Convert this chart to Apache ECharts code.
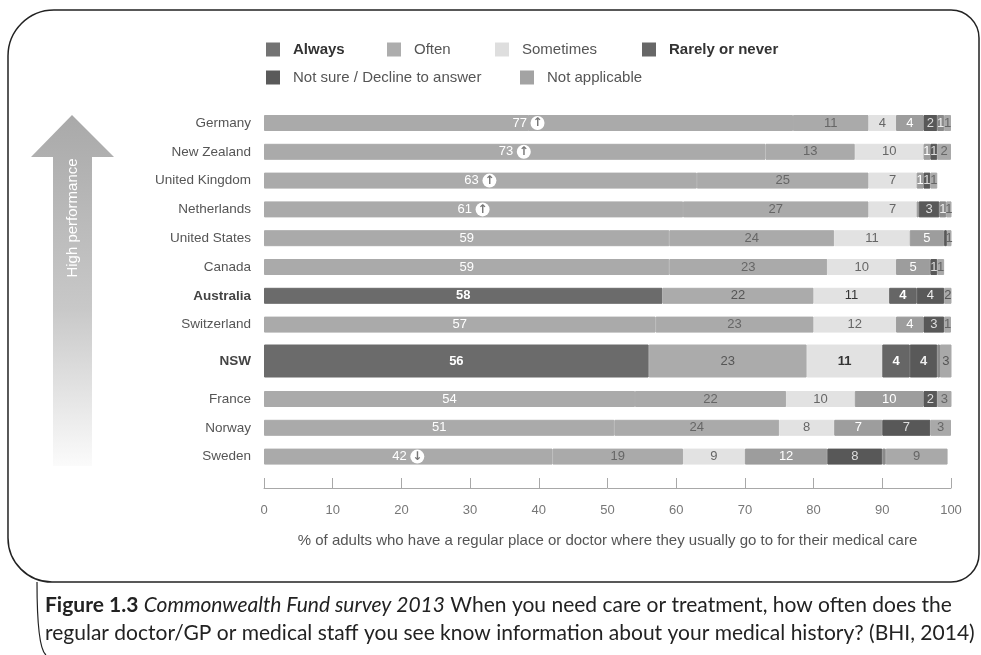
<!DOCTYPE html>
<html>
<head>
<meta charset="utf-8">
<script src="https://cdn.jsdelivr.net/npm/echarts@6/dist/echarts.min.js"></script>
<style>
  html, body { margin: 0; padding: 0; background: #fff; }
  #chart { width: 981px; height: 655px; }
</style>
</head>
<body>
<div id="chart"></div>
<script>
// Survey results: share of adults per answer, by country (percent)
const countries = ['Germany', 'New Zealand', 'United Kingdom', 'Netherlands', 'United States', 'Canada',
  'Australia', 'Switzerland', 'NSW', 'France', 'Norway', 'Sweden'];
const always        = [77, 73, 63, 61, 59, 59, 58, 57, 56, 54, 51, 42];
const often         = [11, 13, 25, 27, 24, 23, 22, 23, 23, 22, 24, 19];
const sometimes     = [4, 10, 7, 7, 11, 10, 11, 12, 11, 10, 8, 9];
const rarelyNever   = [4, 1, 1, 0.3, 5, 5, 4, 4, 4, 10, 7, 12];
const notSure       = [2, 1, 1, 3, 0.4, 1, 4, 3, 4, 2, 7, 8];
const declined      = [1, 0, 0, 1, 0, 0, 0, 0, 0.4, 0, 0, 0.5];
const notApplicable = [1, 2, 1, 1, 1, 1, 2, 1, 3, 3, 3, 9];
// Significant change markers shown next to the "Always" value
const trend = ['up', 'up', 'up', 'up', '', '', '', '', '', '', '', 'down'];
const highlighted = ['Australia', 'NSW'];

// Row blocks: top countries, NSW (drawn taller), remaining countries
const blocks = [
  { rows: [0, 1, 2, 3, 4, 5, 6, 7], top: 108.6, height: 230.4, barWidth: 16 },
  { rows: [8], top: 344.5, height: 33, barWidth: 33 },
  { rows: [9, 10, 11], top: 384.6, height: 86.4, barWidth: 16 }
];

const FONT = "'Liberation Sans', Arial, Helvetica, sans-serif";
const CAPTION_FONT = "Lato, 'Open Sans', sans-serif";

// Segment styles: normal rows / highlighted rows
const segments = [
  { name: 'Always', values: always, legend: '#737373',
    color: '#aaaaaa', text: '#ffffff', hiColor: '#6b6b6b', hiText: '#ffffff', boldIn: ['Australia', 'NSW'] },
  { name: 'Often', values: often, legend: '#adadad',
    color: '#aaaaaa', text: '#666666', hiColor: '#ababab', hiText: '#555555', boldIn: [] },
  { name: 'Sometimes', values: sometimes, legend: '#dedede',
    color: '#e2e2e2', text: '#666666', hiColor: '#e2e2e2', hiText: '#333333', boldIn: ['NSW'] },
  { name: 'Rarely or never', values: rarelyNever, legend: '#676767',
    color: '#9d9d9d', text: '#ffffff', hiColor: '#666666', hiText: '#ffffff', boldIn: ['Australia', 'NSW'] },
  { name: 'Not sure / Decline to answer', values: notSure, legend: '#5a5a5a',
    color: '#585858', text: '#dddddd', hiColor: '#595959', hiText: '#eeeeee', boldIn: ['NSW'] },
  { name: 'Decline to answer', values: declined, legend: null,
    color: '#8a8a8a', text: '#eeeeee', hiColor: '#8a8a8a', hiText: '#eeeeee', boldIn: [] },
  { name: 'Not applicable', values: notApplicable, legend: '#a3a3a3',
    color: '#a9a9a9', text: '#666666', hiColor: '#a9a9a9', hiText: '#555555', boldIn: [] }
];

const markerStyle = {
  backgroundColor: '#fff', color: '#777', borderRadius: 7, width: 14, height: 14,
  lineHeight: 14, align: 'center', fontSize: 12, fontWeight: 'bold', fontFamily: 'DejaVu Sans'
};

const grids = [], xAxes = [], yAxes = [], series = [];
blocks.forEach((b, g) => {
  grids.push({ left: 264, right: 30, top: b.top, height: b.height });
  const last = g === blocks.length - 1;
  xAxes.push(Object.assign({
    gridIndex: g, type: 'value', min: 0, max: 100, interval: 10,
    splitLine: { show: false }
  }, last ? {
    position: 'bottom', offset: 17,
    axisLine: { show: true, lineStyle: { color: '#a8a8a8', width: 1 } },
    axisTick: { show: true, inside: true, length: 10, lineStyle: { color: '#a8a8a8' } },
    axisLabel: { margin: 16, color: '#777', fontSize: 13, fontFamily: FONT },
    name: '% of adults who have a regular place or doctor where they usually go to for their medical care',
    nameLocation: 'middle', nameGap: 45,
    nameTextStyle: { color: '#555', fontSize: 15, fontFamily: FONT }
  } : { show: false }));
  yAxes.push({
    gridIndex: g, type: 'category', inverse: true,
    data: b.rows.map(r => countries[r]),
    axisLine: { show: false }, axisTick: { show: false },
    axisLabel: {
      margin: 13, color: '#555', fontSize: 13.5, fontFamily: FONT,
      formatter: v => highlighted.includes(v) ? '{b|' + v + '}' : v,
      rich: { b: { fontWeight: 'bold', color: '#444', fontSize: 13.5, fontFamily: FONT } }
    }
  });
  segments.forEach(s => {
    series.push({
      type: 'bar', name: s.name, stack: 'block' + g,
      xAxisIndex: g, yAxisIndex: g, barWidth: b.barWidth,
      itemStyle: { color: s.legend || s.color },
      label: {
        show: true, position: 'inside', fontSize: 13, fontFamily: FONT,
        rich: { up: markerStyle, down: markerStyle }
      },
      emphasis: { disabled: true },
      data: b.rows.map(r => {
        const v = s.values[r];
        const c = countries[r];
        const hi = highlighted.includes(c);
        const fill = hi ? s.hiColor : s.color;
        let fmt = '{c}';
        if (s.name === 'Always' && trend[r]) {
          fmt = '{c} {' + trend[r] + '|' + (trend[r] === 'up' ? '↑' : '↓') + '}';
        }
        return {
          value: v > 0 ? v : null,
          // edge stroke in the fill colour closes anti-aliasing seams between segments
          itemStyle: { color: fill, borderColor: fill, borderWidth: 1 },
          label: {
            show: v >= 1,
            color: hi ? s.hiText : s.text,
            fontWeight: s.boldIn.includes(c) ? 'bold' : 'normal',
            formatter: fmt
          }
        };
      })
    });
  });
});

// One legend component per entry so each sits at its own spot
const legendSpots = [
  { name: 'Always', left: 266, top: 42, bold: true },
  { name: 'Often', left: 387, top: 42 },
  { name: 'Sometimes', left: 495, top: 42 },
  { name: 'Rarely or never', left: 642, top: 42, bold: true },
  { name: 'Not sure / Decline to answer', left: 266, top: 70 },
  { name: 'Not applicable', left: 520, top: 70 }
];
const legends = legendSpots.map(l => {
  const seg = segments.find(s => s.name === l.name);
  return {
    left: l.left, top: l.top, padding: 0, itemWidth: 14, itemHeight: 14, icon: 'rect',
    selectedMode: false,
    data: [{ name: l.name, itemStyle: { color: seg.legend } }],
    textStyle: {
      fontSize: 15, fontFamily: FONT, padding: [0, 0, 0, 8],
      color: l.bold ? '#333' : '#555', fontWeight: l.bold ? 'bold' : 'normal'
    }
  };
});

const chart = echarts.init(document.getElementById('chart'), null, { renderer: 'canvas' });
chart.setOption({
  backgroundColor: '#fff',
  animation: false,
  grid: grids, xAxis: xAxes, yAxis: yAxes, series: series, legend: legends,
  graphic: [
    { // rounded frame around the chart
      type: 'rect', silent: true,
      shape: { x: 8, y: 10, width: 971, height: 572, r: [46, 28, 28, 44] },
      style: { fill: 'none', stroke: '#222', lineWidth: 1.5 }
    },
    { // caption bracket
      type: 'bezierCurve', silent: true,
      shape: { x1: 37, y1: 582, x2: 46, y2: 655, cpx1: 37, cpy1: 648 },
      style: { fill: 'none', stroke: '#222', lineWidth: 1.2 }
    },
    { // performance arrow
      type: 'polygon', silent: true,
      shape: { points: [[72, 115], [114, 157], [92, 157], [92, 466], [53, 466], [53, 157], [31, 157]] },
      style: {
        fill: new echarts.graphic.LinearGradient(0, 0, 0, 1, [
          { offset: 0, color: '#a9a9a9' },
          { offset: 0.55, color: '#c8c8c8' },
          { offset: 1, color: '#fbfbfb' }
        ])
      }
    },
    {
      type: 'text', silent: true, x: 73, y: 218, rotation: Math.PI / 2,
      style: { text: 'High performance', fill: '#fff', fontSize: 15, fontFamily: FONT,
               align: 'center', verticalAlign: 'middle' }
    },
    {
      type: 'text', silent: true, x: 45, y: 591,
      style: {
        text: '{b|Figure 1.3} {i|Commonwealth Fund survey 2013} When you need care or treatment, how often does the\nregular doctor/GP or medical staff you see know information about your medical history? (BHI, 2014)',
        fill: '#222', fontSize: 21, fontFamily: CAPTION_FONT, lineHeight: 28,
        rich: {
          b: { fontWeight: 'bold', fontSize: 21, fontFamily: CAPTION_FONT, fill: '#222', lineHeight: 28 },
          i: { fontStyle: 'italic', fontSize: 21, fontFamily: CAPTION_FONT, fill: '#222', lineHeight: 28 }
        }
      }
    }
  ]
});
</script>
</body>
</html>
